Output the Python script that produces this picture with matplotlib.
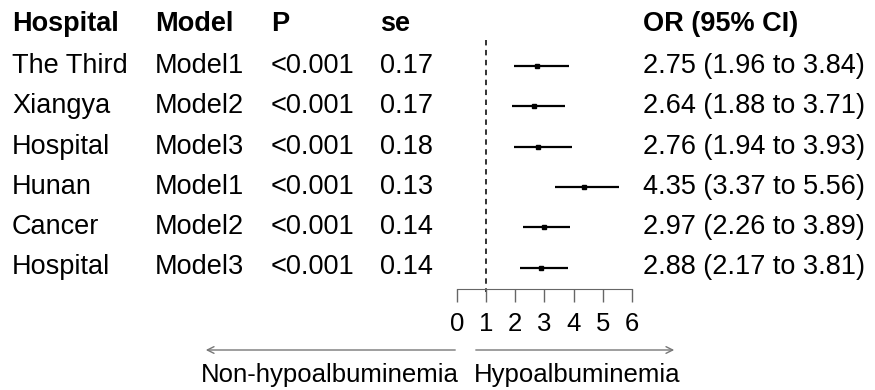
import matplotlib
matplotlib.use('Agg')
import matplotlib.pyplot as plt

# ---- data ----
hospital = ['The Third', 'Xiangya', 'Hospital', 'Hunan', 'Cancer', 'Hospital']
model = ['Model1', 'Model2', 'Model3', 'Model1', 'Model2', 'Model3']
p_val = ['<0.001'] * 6
se = [0.17, 0.17, 0.18, 0.13, 0.14, 0.14]
or_est = [2.75, 2.64, 2.76, 4.35, 2.97, 2.88]
ci_low = [1.96, 1.88, 1.94, 3.37, 2.26, 2.17]
ci_high = [3.84, 3.71, 3.93, 5.56, 3.89, 3.81]
x_ticks = [0, 1, 2, 3, 4, 5, 6]

plt.rcParams['font.family'] = ['Liberation Sans', 'DejaVu Sans']
FS = 19.5      # table text
FS2 = 18.5     # axis / direction labels
W, H = 875, 390
x0_px, x6_px = 457, 632          # pixel positions of OR=0 and OR=6
unit = (x6_px - x0_px) / 6.0
row0_px, row_step = 66, 40.3     # pixel y of first row and row spacing

fig = plt.figure(figsize=(W / 100, H / 100), dpi=100)
ax = fig.add_axes([0, 0, 1, 1])
ax.set_xlim(-x0_px / unit, (W - x0_px) / unit)
ax.set_ylim((H - row0_px) / row_step, -row0_px / row_step)
ax.axis('off')

rows = list(range(len(hospital)))
tr = ax.get_yaxis_transform()  # x in axes fraction, y in data (rows)

# header
hdr_y = (24 - row0_px) / row_step
cols_px = [12, 155, 271, 380, 643]
for txt, cx in zip(['Hospital', 'Model', 'P', 'se', 'OR (95% CI)'], cols_px):
    ax.text(cx / W, hdr_y, txt, transform=tr, fontsize=FS, fontweight='bold',
            ha='left', va='center')

# table body
for i in rows:
    vals = [hospital[i], model[i], p_val[i], f'{se[i]:.2f}',
            f'{or_est[i]:.2f} ({ci_low[i]:.2f} to {ci_high[i]:.2f})']
    for txt, cx in zip(vals, cols_px):
        ax.text(cx / W, i, txt, transform=tr, fontsize=FS, ha='left', va='center')

# reference line at OR = 1
ax.plot([1, 1], [(40 - row0_px) / row_step, (292 - row0_px) / row_step],
        color='#222222', lw=1.3, ls=(0, (3, 2.5)))

# CIs and point estimates
ax.hlines(rows, ci_low, ci_high, color='black', lw=1.6)
ax.plot(or_est, rows, 's', color='black', ms=2.5)

# scale axis
sax = fig.add_axes([x0_px / W, 1 - 289 / H, (x6_px - x0_px) / W, 1e-4])
sax.set_xlim(0, 6)
sax.set_xticks(x_ticks)
sax.set_yticks([])
for s in ['top', 'left', 'right']:
    sax.spines[s].set_visible(False)
sax.spines['bottom'].set_color('#666666')
sax.tick_params(axis='x', direction='out', length=9.5, width=1, colors='#666666',
                labelcolor='black', labelsize=FS2, pad=7)
sax.patch.set_visible(False)

# direction arrows
arr_y = (350 - row0_px) / row_step
lab_y = (375 - row0_px) / row_step
ax.annotate('', xy=((203 - x0_px) / unit, arr_y), xytext=((458 - x0_px) / unit, arr_y),
            arrowprops=dict(arrowstyle='->', color='#777777', lw=1, mutation_scale=12))
ax.annotate('', xy=((677 - x0_px) / unit, arr_y), xytext=((473 - x0_px) / unit, arr_y),
            arrowprops=dict(arrowstyle='->', color='#777777', lw=1, mutation_scale=12))
ax.text((459 - x0_px) / unit, lab_y, 'Non-hypoalbuminemia', fontsize=FS2, ha='right', va='center')
ax.text((474 - x0_px) / unit, lab_y, 'Hypoalbuminemia', fontsize=FS2, ha='left', va='center')

fig.savefig('out.png', dpi=100)
